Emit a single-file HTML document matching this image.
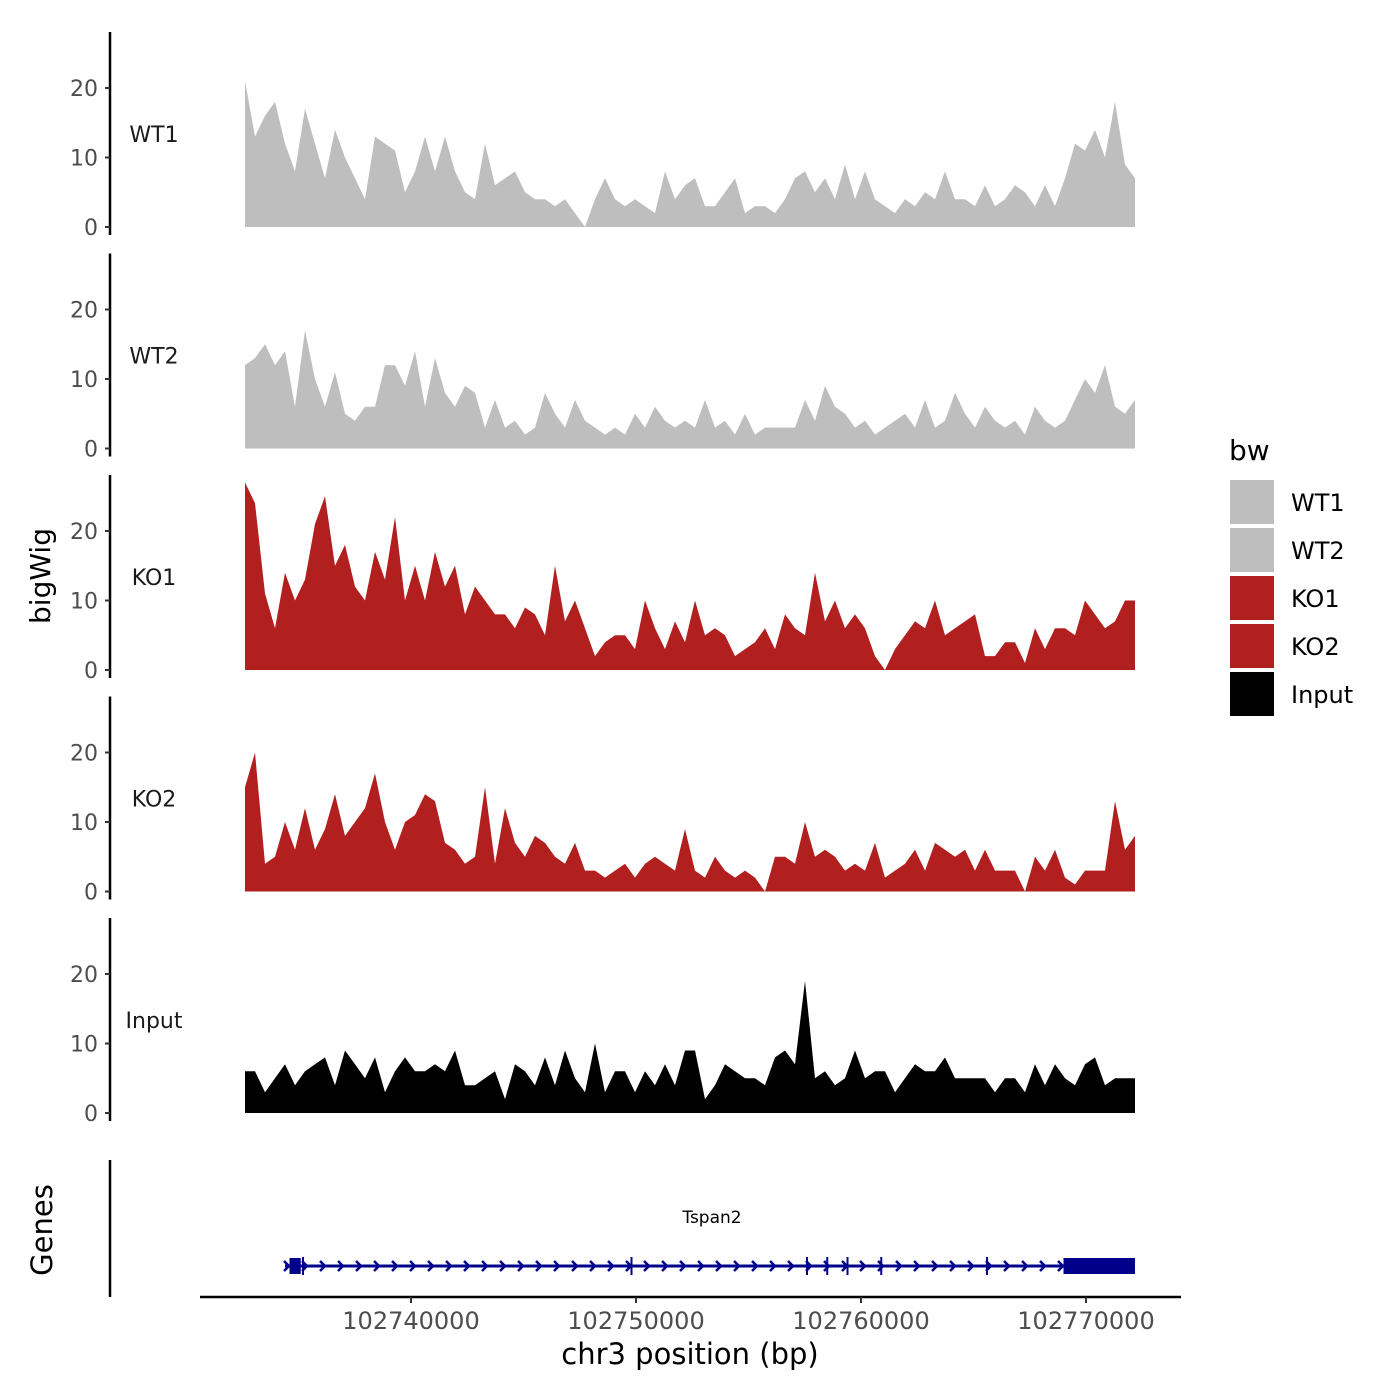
<!DOCTYPE html>
<html><head><meta charset="utf-8"><style>
html,body{margin:0;padding:0;background:#fff;}
svg{display:block;font-family:"DejaVu Sans","Liberation Sans",sans-serif;}
</style></head><body>
<svg id="chart" width="1400" height="1400" viewBox="0 0 1400 1400" xmlns="http://www.w3.org/2000/svg">
<text x="50" y="576" font-size="28" text-anchor="middle" transform="rotate(-90 50 576)" fill="#000">bigWig</text>
<text x="52" y="1230" font-size="29" text-anchor="middle" transform="rotate(-90 52 1230)" fill="#000">Genes</text>
<g id="tracks"></g>
<g id="genes"></g>
<g id="xaxis"></g>
<text x="690" y="1364" font-size="29" text-anchor="middle" fill="#000">chr3 position (bp)</text>
<g id="legend">
<text x="1229" y="460" font-size="28" fill="#000">bw</text>
</g>
</svg>
<script>
const sampleNames = ["WT1","WT2","KO1","KO2","Input"];
const sampleColors = ["#bebebe","#bebebe","#b21f1f","#b21f1f","#000000"];
const startBp = 102732622;
const endBp = 102772178;
const yTicks = [0,10,20];
const xTicks = [102740000,102750000,102760000,102770000];
const wt1 = [21,13,16,18,12,8,17,12,7,14,10,7,4,13,12,11,5,8,13,8,13,8,5,4,12,6,7,8,5,4,4,3,4,2,0,4,7,4,3,4,3,2,8,4,6,7,3,3,5,7,2,3,3,2,4,7,8,5,7,4,9,4,8,4,3,2,4,3,5,4,8,4,4,3,6,3,4,6,5,3,6,3,7,12,11,14,10,18,9,7];
const wt2 = [12,13,15,12,14,6,17,10,6,11,5,4,6,6,12,12,9,14,6,13,8,6,9,8,3,7,3,4,2,3,8,5,3,7,4,3,2,3,2,5,3,6,4,3,4,3,7,3,4,2,5,2,3,3,3,3,7,4,9,6,5,3,4,2,3,4,5,3,7,3,4,8,5,3,6,4,3,4,2,6,4,3,4,7,10,8,12,6,5,7];
const ko1 = [27,24,11,6,14,10,13,21,25,15,18,12,10,17,13,22,10,15,10,17,12,15,8,12,10,8,8,6,9,8,5,15,7,10,6,2,4,5,5,3,10,6,3,7,4,10,5,6,5,2,3,4,6,3,8,6,5,14,7,10,6,8,6,2,0,3,5,7,6,10,5,6,7,8,2,2,4,4,1,6,3,6,6,5,10,8,6,7,10,10];
const ko2 = [15,20,4,5,10,6,12,6,9,14,8,10,12,17,10,6,10,11,14,13,7,6,4,5,15,4,12,7,5,8,7,5,4,7,3,3,2,3,4,2,4,5,4,3,9,3,2,5,3,2,3,2,0,5,5,4,10,5,6,5,3,4,3,7,2,3,4,6,3,7,6,5,6,3,6,3,3,3,0,5,3,6,2,1,3,3,3,13,6,8];
const input = [6,6,3,5,7,4,6,7,8,4,9,7,5,8,3,6,8,6,6,7,6,9,4,4,5,6,2,7,6,4,8,4,9,5,3,10,3,6,6,3,6,4,7,4,9,9,2,4,7,6,5,5,4,8,9,7,19,5,6,4,5,9,5,6,6,3,5,7,6,6,8,5,5,5,5,3,5,5,3,7,4,7,5,4,7,8,4,5,5,5];
const series = [wt1,wt2,ko1,ko2,input];
const geneName = "Tspan2";
const geneStart = 102734400;
const geneEnd = 102772178;
const exonStarts = [102734600,102769000];
const exonEnds = [102735100,102772178];
const intronMarks = [102735200,102749800,102757600,102758500,102759400,102760900,102765600];

const NS="http://www.w3.org/2000/svg";
function mk(tag,attrs,parent){const e=document.createElementNS(NS,tag);for(const k in attrs)e.setAttribute(k,attrs[k]);parent.appendChild(e);return e;}
const xS = bp => 411 + (bp-102740000)/10000*225;
const panelTop = i => 32 + i*221.5;
const yS = (i,v) => 227 + i*221.5 - v*6.95;

const tracks=document.getElementById('tracks');
series.forEach((vals,i)=>{
  const g=mk('g',{},tracks);
  
  
  const ax=mk('line',{x1:110,x2:110,y1:panelTop(i),y2:panelTop(i)+203,stroke:'#000','stroke-width':2.5},g);
  
  
  yTicks.forEach(t=>{
    const y=yS(i,t);
    const tk=mk('line',{x1:105,x2:110,y1:y,y2:y,stroke:'#333','stroke-width':2},g);
    
    
    const tl=mk('text',{x:98,y:y+8,'font-size':22,'text-anchor':'end',fill:'#4d4d4d'},g);
    tl.textContent=t;
    
    
  });
  const lb=mk('text',{x:154,y:yS(i,0)-85,'font-size':22,'text-anchor':'middle',fill:'#1a1a1a'},g);
  lb.textContent=sampleNames[i];
  
  
  const n=vals.length;
  let d='M'+xS(startBp)+','+yS(i,0);
  vals.forEach((v,j)=>{const bp=startBp+(endBp-startBp)*j/(n-1);d+=' L'+xS(bp).toFixed(1)+','+yS(i,v).toFixed(1);});
  d+=' L'+xS(endBp)+','+yS(i,0)+' Z';
  const p=mk('path',{d:d,fill:sampleColors[i]},g);
  
  
});

const gg=document.getElementById('genes');
const gax=mk('line',{x1:110,x2:110,y1:1160,y2:1297,stroke:'#000','stroke-width':2.5},gg);


const gy=1266;
const gl=mk('line',{x1:xS(geneStart),x2:xS(geneEnd),y1:gy,y2:gy,stroke:'#00008b','stroke-width':3},gg);


for(let x=xS(geneStart)+2;x<xS(exonStarts[1]);x+=18){
  const a=mk('polyline',{points:(x-3)+','+(gy-5)+' '+(x+2)+','+gy+' '+(x-3)+','+(gy+5),fill:'none',stroke:'#00008b','stroke-width':2.5},gg);
  
  
}
intronMarks.forEach(bp=>{
  const m=mk('line',{x1:xS(bp),x2:xS(bp),y1:gy-9,y2:gy+9,stroke:'#00008b','stroke-width':2},gg);
  
  
});
exonStarts.forEach((s,k)=>{
  const r=mk('rect',{x:xS(s),y:gy-8,width:xS(exonEnds[k])-xS(s),height:16,fill:'#00008b'},gg);
  
  
});
const gn=mk('text',{x:712,y:1223,'font-size':17,'text-anchor':'middle',fill:'#000'},gg);
gn.textContent=geneName;



const xa=document.getElementById('xaxis');
const xl=mk('line',{x1:200,x2:1181,y1:1297,y2:1297,stroke:'#000','stroke-width':2.5},xa);


xTicks.forEach(t=>{
  const x=xS(t);
  const tk=mk('line',{x1:x,x2:x,y1:1297,y2:1303,stroke:'#333','stroke-width':2},xa);
  
  
  const tl=mk('text',{x:x,y:1329,'font-size':24,'text-anchor':'middle',fill:'#4d4d4d'},xa);
  tl.textContent=t;
  
  
});

const lg=document.getElementById('legend');
sampleNames.forEach((nm,i)=>{
  const y=480+i*48;
  const r=mk('rect',{x:1230,y:y,width:44,height:44,fill:sampleColors[i]},lg);
  
  
  const t=mk('text',{x:1291,y:y+31,'font-size':24,fill:'#000'},lg);
  t.textContent=nm;
  
  
});
</script>
</body></html>
